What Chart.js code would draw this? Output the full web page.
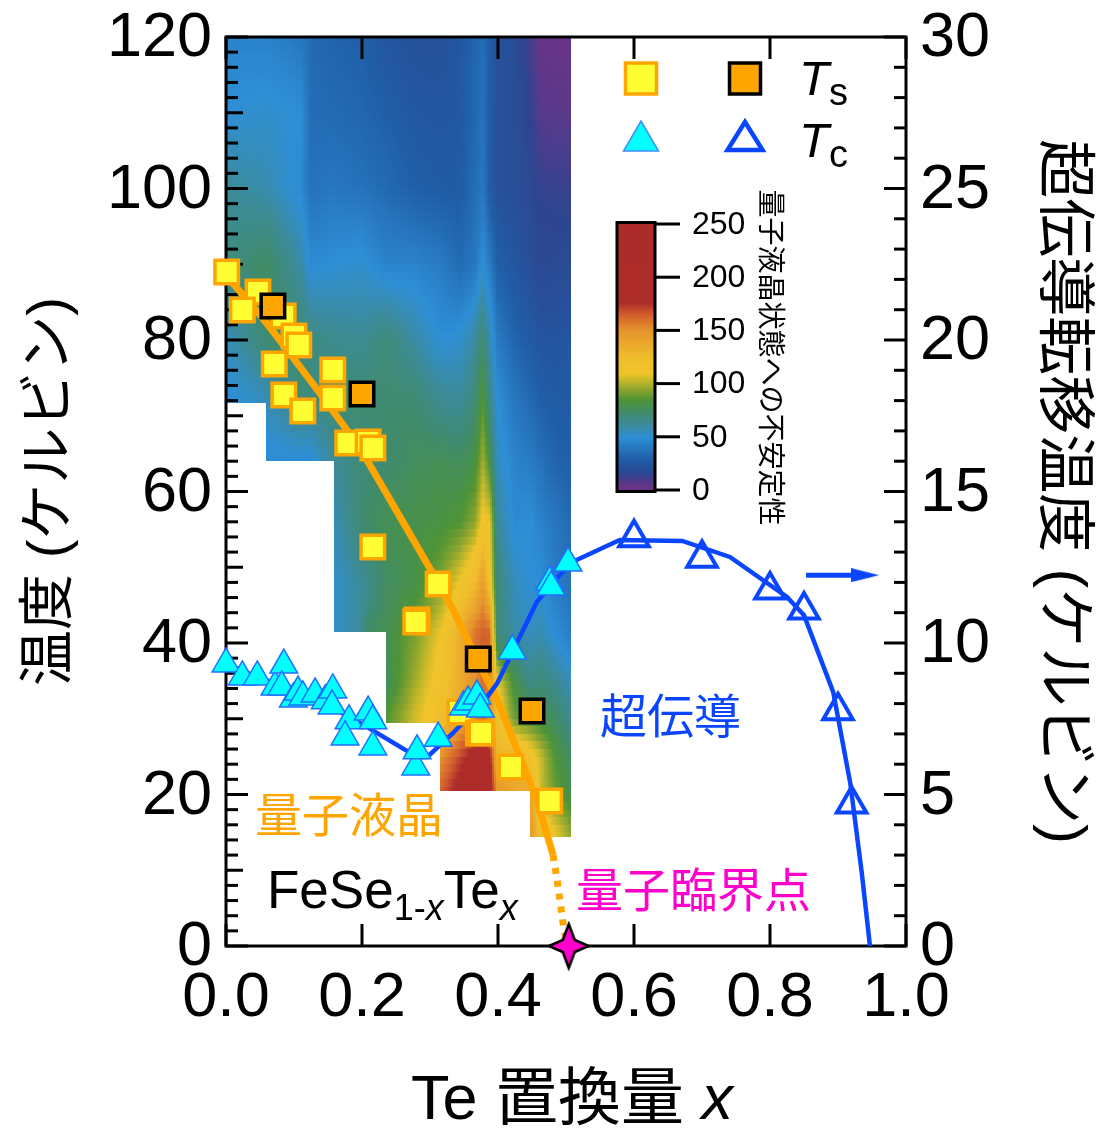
<!DOCTYPE html>
<html>
<head>
<meta charset="utf-8">
<style>
  html, body { margin: 0; padding: 0; background: #fff; }
  canvas { display: block; }
</style>
<script src="https://cdn.jsdelivr.net/npm/chart.js@4/dist/chart.umd.js"></script>
</head>
<body>
<canvas id="chart" width="1102" height="1129"></canvas>
<script>
// Ts, yellow squares
const tsX = [0.001, 0.047, 0.024, 0.084, 0.1, 0.107, 0.071, 0.085, 0.113, 0.157, 0.157, 0.179, 0.209, 0.216, 0.216, 0.281, 0.279, 0.312, 0.344, 0.371, 0.375, 0.419, 0.476];
const tsT = [88.98, 86.34, 83.96, 83.17, 80.53, 79.34, 76.83, 72.74, 70.63, 76.04, 72.34, 66.4, 66.53, 65.74, 52.67, 43.04, 42.77, 47.79, 30.89, 28.12, 28.12, 23.63, 19.14];
// Ts, orange squares
const ts2X = [0.069, 0.2, 0.371, 0.45];
const ts2T = [84.49, 72.87, 37.89, 31.02];
// Tc, filled triangles
const tcX = [0, 0.024, 0.046, 0.072, 0.085, 0.082, 0.099, 0.106, 0.113, 0.131, 0.146, 0.157, 0.156, 0.181, 0.175, 0.209, 0.216, 0.216, 0.279, 0.281, 0.312, 0.349, 0.356, 0.369, 0.374, 0.421, 0.476, 0.478, 0.503];
const tcK = [9.31, 8.88, 8.88, 8.55, 9.27, 8.55, 8.15, 8.38, 8.22, 8.32, 8.09, 8.45, 7.92, 7.43, 6.9, 7.72, 7.43, 6.57, 5.91, 6.44, 6.86, 7.89, 8.05, 8.25, 7.82, 9.74, 12.01, 11.85, 12.64];
// Tc, open triangles
const tc2X = [0.6, 0.7, 0.8, 0.85, 0.9, 0.92];
const tc2K = [13.47, 12.8, 11.75, 11.09, 7.76, 4.69];
// guide lines
const tcLineX = [0, 0.05, 0.109, 0.168, 0.207, 0.281, 0.296, 0.334, 0.384, 0.399, 0.457, 0.506, 0.579, 0.671, 0.741, 0.825, 0.85, 0.893, 0.918, 0.935, 0.947];
const tcLineK = [9.31, 8.84, 8.38, 7.72, 7.23, 6.24, 6.24, 7.03, 8.22, 8.68, 11.35, 12.64, 13.4, 13.37, 12.84, 11.52, 10.92, 8.38, 5.38, 2.41, 0];
const tsLineX = [0.001, 0.01, 0.053, 0.09, 0.138, 0.178, 0.207, 0.304, 0.334, 0.369, 0.399, 0.432, 0.457, 0.481];
const tsLineT = [88.98, 87.5, 83, 78.7, 73, 68.1, 64.2, 49.2, 44.4, 37.8, 32.5, 25, 19.3, 12];
const tsDotX = [0.481, 0.487, 0.491, 0.497, 0.504];
const tsDotT = [12, 8.7, 6.1, 2.1, 0];
const qcpX = [0.504];
const qcpT = [0];
const arrowX = [0.853, 0.94];
const arrowK = [12.24, 12.24];

// heat map: rows are temperature, columns are x
const heatX = [0, 0.06, 0.11, 0.125, 0.157, 0.2, 0.235, 0.278, 0.315, 0.344, 0.366, 0.378, 0.388, 0.399, 0.425, 0.449, 0.462, 0.484, 0.507];
const heatT = [120, 110, 100, 90, 80, 72, 64, 56, 48, 41, 35, 30, 25, 20, 15];
const heatZ = [
  [45, 45, 40, 35, 32, 30, 25, 22, 22, 25, 33, 36, 30, 22, 20, 10, 5, 4, 4],
  [50, 52, 50, 36, 35, 33, 30, 26, 25, 26, 34, 38, 28, 22, 20, 14, 8, 7, 7],
  [62, 58, 48, 38, 40, 38, 35, 30, 28, 28, 36, 40, 28, 22, 20, 17, 14, 13, 13],
  [68, 75, 60, 48, 50, 52, 45, 45, 42, 35, 40, 50, 42, 30, 25, 20, 17, 18, 18],
  [55, 72, 72, 68, 65, 63, 70, 60, 50, 52, 60, 72, 58, 42, 32, 28, 24, 24, 25],
  [48, 55, 70, 68, 70, 72, 72, 72, 64, 62, 70, 85, 68, 50, 40, 34, 30, 28, 28],
  [null, 48, 48, 48, 62, 70, 72, 76, 78, 76, 80, 98, 82, 55, 45, 42, 38, 32, 30],
  [null, null, null, null, 55, 72, 78, 80, 82, 85, 95, 112, 110, 62, 48, 50, 45, 40, 35],
  [null, null, null, null, 52, 62, 75, 80, 92, 110, 125, 145, 118, 70, 55, 50, 50, 42, 38],
  [null, null, null, null, null, null, 78, 92, 110, 135, 160, 165, 165, 70, 60, 55, 58, 50, 42],
  [null, null, null, null, null, null, 75, 98, 115, 135, 150, 160, 155, 110, 80, 65, 70, 65, 55],
  [null, null, null, null, null, null, 85, 105, 120, 140, 155, 165, 150, 120, 90, 85, 80, 75, 65],
  [null, null, null, null, null, null, null, null, 150, 170, 185, 190, 180, 130, 130, 115, 105, 85, 75],
  [null, null, null, null, null, null, null, null, 165, 185, 190, 190, 190, 150, 140, 140, 105, 90, 80],
  [null, null, null, null, null, null, null, null, null, null, null, null, null, null, null, 145, 125, 110, 95]
];
// lower edge of the measured region, a stair
const floorEdges = [0, 0.0588, 0.1574, 0.2353, 0.3147, 0.4485, 0.5074];
const floorT = [71.7, 64, 41.5, 29.5, 20.5, 14.4];

const cbTicks = [0, 50, 100, 150, 200, 250];
const cmapV = [0, 5, 15, 30, 50, 62, 72, 85, 95, 103, 110, 125, 150, 165, 176, 250];
const cmapC = ["#6a3488", "#653589", "#2d4590", "#1f5fa8", "#2e8fd6", "#3c8b98", "#3f8b70", "#4e9436", "#8ea52f", "#c4b92a", "#f0c42b", "#efbd2c", "#e6952c", "#d25f2c", "#ae2d2a", "#ad2c2a"];

const SANS = '"Liberation Sans", "Noto Sans CJK JP", sans-serif';
const CJK = '"Noto Sans CJK JP", sans-serif';
const ORANGE = "#ffa500";
const BLUE = "#0a46ff";
const MAGENTA = "#ff00cc";

const zip = (xs, ys) => xs.map((x, i) => ({ x: x, y: ys[i] }));
const cmapRgb = cmapC.map((c) => [1, 3, 5].map((i) => parseInt(c.substr(i, 2), 16)));

function colorFor(v) {
  let i = 0;
  while (i < cmapV.length - 2 && v > cmapV[i + 1]) i++;
  const t = Math.min(1, Math.max(0, (v - cmapV[i]) / (cmapV[i + 1] - cmapV[i])));
  const c = cmapRgb[i].map((a, k) => Math.round(a + (cmapRgb[i + 1][k] - a) * t));
  return "rgb(" + c.join(",") + ")";
}

// shade between the neighbouring cells that exist
function heatAt(x, T) {
  let c = 0;
  while (c < heatX.length - 2 && x > heatX[c + 1]) c++;
  let r = 0;
  while (r < heatT.length - 2 && T < heatT[r + 1]) r++;
  const fx = Math.min(1, Math.max(0, (x - heatX[c]) / (heatX[c + 1] - heatX[c])));
  const fy = Math.min(1, Math.max(0, (heatT[r] - T) / (heatT[r] - heatT[r + 1])));
  const corners = [[r, c, (1 - fx) * (1 - fy)], [r, c + 1, fx * (1 - fy)], [r + 1, c, (1 - fx) * fy], [r + 1, c + 1, fx * fy]];
  let sum = 0, w = 0;
  corners.forEach(([a, b, k]) => {
    if (heatZ[a][b] !== null) { sum += heatZ[a][b] * k; w += k; }
  });
  return w > 0 ? sum / w : (heatZ[r][c] !== null ? heatZ[r][c] : 60);
}

function floorAt(x) {
  for (let i = 0; i < floorT.length; i++) {
    if (x < floorEdges[i + 1]) return floorT[i];
  }
  return null;
}

const heatPlugin = {
  id: "heat",
  beforeDatasetsDraw(chart) {
    const { ctx, scales } = chart;
    const xs = scales.x, ys = scales.y;
    const p0 = Math.round(xs.getPixelForValue(0));
    const p1 = Math.round(xs.getPixelForValue(floorEdges[floorEdges.length - 1]));
    for (let px = p0; px < p1; px += 2) {
      const x = xs.getValueForPixel(px + 1);
      const low = floorAt(x);
      if (low === null) continue;
      for (let T = 120; T > low; T -= 1) {
        const bottom = Math.max(T - 1, low);
        const y0 = Math.round(ys.getPixelForValue(T));
        const y1 = Math.round(ys.getPixelForValue(bottom));
        ctx.fillStyle = colorFor(heatAt(x, (T + bottom) / 2));
        ctx.fillRect(px, y0, Math.min(2, p1 - px), y1 - y0);
      }
    }
  }
};

function tickRun(ctx, scale, from, to, step, side, lengthFor) {
  const a = scale.chart.chartArea;
  for (let v = from; v <= to + 1e-9; v += step) {
    const p = scale.getPixelForValue(v);
    const len = lengthFor(v);
    ctx.beginPath();
    if (side === "left") { ctx.moveTo(a.left, p); ctx.lineTo(a.left + len, p); }
    if (side === "right") { ctx.moveTo(a.right, p); ctx.lineTo(a.right - len, p); }
    if (side === "bottom") { ctx.moveTo(p, a.bottom); ctx.lineTo(p, a.bottom - len); }
    if (side === "top") { ctx.moveTo(p, a.top); ctx.lineTo(p, a.top + len); }
    ctx.stroke();
  }
}

const framePlugin = {
  id: "frame",
  beforeDatasetsDraw(chart) {
    const { ctx, scales, chartArea: a } = chart;
    ctx.save();
    ctx.strokeStyle = "#000";
    ctx.lineWidth = 3;
    tickRun(ctx, scales.y, 0, 120, 2, "left", (v) => (v % 20 === 0 ? 22 : v % 10 === 0 ? 17 : 12));
    tickRun(ctx, scales.y2, 0, 30, 1, "right", (v) => (v % 5 === 0 ? 22 : 12));
    tickRun(ctx, scales.x, 0, 1, 0.2, "bottom", () => 22);
    tickRun(ctx, scales.x, 0, 1, 0.2, "top", () => 22);
    ctx.strokeRect(a.left, a.top, a.right - a.left, a.bottom - a.top);
    ctx.restore();
  }
};

function textRuns(ctx, x, y, runs) {
  runs.forEach((r) => {
    ctx.font = r.font;
    ctx.fillText(r.text, x, y + (r.dy || 0));
    x += ctx.measureText(r.text).width;
  });
}

function legendSquare(ctx, cx, cy, size, fill, edge) {
  ctx.fillStyle = fill;
  ctx.strokeStyle = edge;
  ctx.lineWidth = 3.5;
  ctx.fillRect(cx - size / 2, cy - size / 2, size, size);
  ctx.strokeRect(cx - size / 2, cy - size / 2, size, size);
}

function legendTriangle(ctx, cx, top, w, h, fill, edge, lw) {
  ctx.beginPath();
  ctx.moveTo(cx, top);
  ctx.lineTo(cx + w / 2, top + h);
  ctx.lineTo(cx - w / 2, top + h);
  ctx.closePath();
  if (fill) { ctx.fillStyle = fill; ctx.fill(); }
  ctx.strokeStyle = edge;
  ctx.lineWidth = lw;
  ctx.stroke();
}

const notesPlugin = {
  id: "notes",
  afterDatasetsDraw(chart) {
    const { ctx } = chart;
    ctx.save();
    ctx.textBaseline = "alphabetic";
    ctx.textAlign = "left";

    // text inside the plot
    ctx.font = "47px " + CJK;
    ctx.fillStyle = ORANGE;
    ctx.fillText("量子液晶", 255, 832);
    ctx.fillStyle = BLUE;
    ctx.fillText("超伝導", 600, 733);
    ctx.fillStyle = MAGENTA;
    ctx.fillText("量子臨界点", 576, 907);

    ctx.fillStyle = "#000";
    textRuns(ctx, 267, 908, [
      { text: "FeSe", font: "53px " + SANS },
      { text: "1-", font: "36px " + SANS, dy: 12 },
      { text: "x", font: "italic 36px " + SANS, dy: 12 },
      { text: "Te", font: "53px " + SANS },
      { text: "x", font: "italic 36px " + SANS, dy: 12 }
    ]);

    // x axis title, it mixes roman and italic
    textRuns(ctx, 411, 1119, [
      { text: "Te ", font: "63px " + SANS },
      { text: "置換量", font: "63px " + CJK },
      { text: " ", font: "63px " + SANS },
      { text: "x", font: "italic 63px " + SANS }
    ]);

    // key
    legendSquare(ctx, 641, 78.5, 31, "#ffff33", ORANGE);
    legendSquare(ctx, 745, 78.5, 31, ORANGE, "#000");
    legendTriangle(ctx, 641, 121, 35, 30, "#00ffff", "#3f8cff", 1.5);
    legendTriangle(ctx, 745, 122, 35, 28, null, BLUE, 4.5);
    ctx.fillStyle = "#000";
    textRuns(ctx, 799, 95, [
      { text: "T", font: "italic 49px " + SANS },
      { text: "s", font: "38px " + SANS, dy: 10 }
    ]);
    textRuns(ctx, 799, 157, [
      { text: "T", font: "italic 49px " + SANS },
      { text: "c", font: "38px " + SANS, dy: 10 }
    ]);

    // colour bar
    const barL = 617, barR = 655, barT = 224, barB = 490;
    const perUnit = (barB - barT) / 250;
    for (let v = 0; v < 250; v += 1) {
      ctx.fillStyle = colorFor(v + 0.5);
      ctx.fillRect(barL, barB - (v + 1) * perUnit - 0.5, barR - barL, perUnit + 1);
    }
    ctx.strokeStyle = "#000";
    ctx.lineWidth = 3;
    ctx.strokeRect(barL, barT - 1.5, barR - barL, barB - barT + 3);
    ctx.font = "32px " + SANS;
    ctx.fillStyle = "#000";
    ctx.textBaseline = "middle";
    cbTicks.forEach((v) => {
      const p = barB - v * perUnit;
      ctx.beginPath();
      ctx.moveTo(barR, p);
      ctx.lineTo(680, p);
      ctx.stroke();
      ctx.fillText(String(v), 692, p + 1);
    });
    ctx.save();
    ctx.translate(772, 357.5);
    ctx.rotate(Math.PI / 2);
    ctx.textAlign = "center";
    ctx.font = "28px " + CJK;
    ctx.fillText("量子液晶状態への不安定性", 0, 0);
    ctx.restore();
    ctx.restore();
  }
};

// four pointed marker for the critical point
function starMarker() {
  const c = document.createElement("canvas");
  c.width = 48; c.height = 50;
  const g = c.getContext("2d");
  const mx = 24, my = 25, rx = 20, ry = 22, k = 6;
  g.beginPath();
  g.moveTo(mx, my - ry);
  g.lineTo(mx + k, my - k);
  g.lineTo(mx + rx, my);
  g.lineTo(mx + k, my + k);
  g.lineTo(mx, my + ry);
  g.lineTo(mx - k, my + k);
  g.lineTo(mx - rx, my);
  g.lineTo(mx - k, my - k);
  g.closePath();
  g.fillStyle = MAGENTA;
  g.fill();
  g.strokeStyle = "#000";
  g.lineWidth = 2.5;
  g.lineJoin = "miter";
  g.stroke();
  return c;
}

function arrowHead() {
  const c = document.createElement("canvas");
  c.width = 28; c.height = 14;
  const g = c.getContext("2d");
  g.beginPath();
  g.moveTo(0, 0);
  g.lineTo(28, 7);
  g.lineTo(0, 14);
  g.closePath();
  g.fillStyle = BLUE;
  g.fill();
  return c;
}

const plainLine = { showLine: true, pointRadius: 0, clip: false, fill: false, tension: 0 };

// first dataset ends up on top
new Chart(document.getElementById("chart"), {
  type: "scatter",
  data: {
    datasets: [
      { label: "QCP", data: zip(qcpX, qcpT), pointStyle: starMarker(), pointRadius: 22, clip: false },
      { label: "Tc open", data: zip(tc2X, tc2K), yAxisID: "y2", pointStyle: "triangle", pointRadius: 17, borderColor: BLUE, backgroundColor: "rgba(0,0,0,0)", borderWidth: 4, clip: false },
      { label: "Tc", data: zip(tcX, tcK), yAxisID: "y2", pointStyle: "triangle", pointRadius: 16, borderColor: "#1f6fff", backgroundColor: "#00ffff", borderWidth: 1.5, clip: false },
      { label: "Ts orange", data: zip(ts2X, ts2T), pointStyle: "rect", pointRadius: 16.6, borderColor: "#000", backgroundColor: ORANGE, borderWidth: 3.5, clip: false },
      { label: "Ts", data: zip(tsX, tsT), pointStyle: "rect", pointRadius: 16.6, borderColor: ORANGE, backgroundColor: "#ffff33", borderWidth: 3.5, clip: false },
      Object.assign({ label: "Tc line", data: zip(tcLineX, tcLineK), yAxisID: "y2", borderColor: BLUE, borderWidth: 4.5 }, plainLine),
      Object.assign({ label: "Ts dotted", data: zip(tsDotX, tsDotT), borderColor: ORANGE, borderWidth: 7, borderDash: [6, 7] }, plainLine),
      Object.assign({ label: "Ts line", data: zip(tsLineX, tsLineT), borderColor: ORANGE, borderWidth: 7 }, plainLine),
      { label: "arrow", data: zip(arrowX, arrowK), yAxisID: "y2", showLine: true, borderColor: BLUE, borderWidth: 5, pointStyle: [false, arrowHead()], pointRadius: [0, 14], clip: false }
    ]
  },
  options: {
    responsive: false,
    animation: false,
    events: [],
    layout: { padding: { top: 37 } },
    plugins: { legend: { display: false }, tooltip: { enabled: false } },
    scales: {
      x: {
        type: "linear",
        min: 0,
        max: 1,
        grid: { display: false },
        border: { display: false },
        afterFit(s) { s.height = 183; s.paddingLeft = 0; s.paddingRight = 0; },
        ticks: {
          stepSize: 0.2,
          maxRotation: 0,
          autoSkip: false,
          padding: 7,
          color: "#000",
          font: { family: SANS, size: 63 },
          callback: (v) => Number(v).toFixed(1)
        }
      },
      y: {
        position: "left",
        min: 0,
        max: 120,
        grid: { display: false },
        border: { display: false },
        afterFit(s) { s.width = 226; s.paddingTop = 0; s.paddingBottom = 0; },
        title: { display: true, text: "温度 (ケルビン)", color: "#000", padding: { top: 17, bottom: 0 }, font: { family: SANS, size: 56 } },
        ticks: { stepSize: 20, padding: 6, labelOffset: 2, color: "#000", font: { family: SANS, size: 63 } }
      },
      y2: {
        position: "right",
        min: 0,
        max: 30,
        grid: { display: false },
        border: { display: false },
        afterFit(s) { s.width = 196; s.paddingTop = 0; s.paddingBottom = 0; },
        title: { display: true, text: "超伝導転移温度 (ケルビン)", color: "#000", padding: { top: 5, bottom: 0 }, font: { family: SANS, size: 59 } },
        ticks: { stepSize: 5, padding: 6, labelOffset: 2, color: "#000", font: { family: SANS, size: 63 } }
      }
    }
  },
  plugins: [heatPlugin, framePlugin, notesPlugin]
});
</script>
</body>
</html>
